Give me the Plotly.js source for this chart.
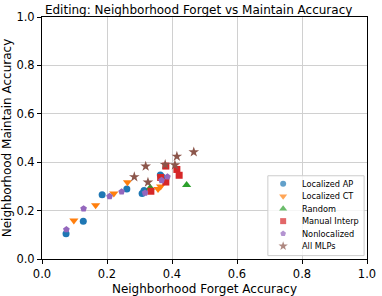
<!DOCTYPE html>
<html><head><meta charset="utf-8">
<script src="https://cdn.plot.ly/plotly-3.0.1.min.js"></script>
<style>html,body{margin:0;padding:0;background:#fff}#chart{width:382px;height:296px}</style>
</head><body><div id="chart"></div>
<script>
const apX = [0.074, 0.127, 0.185, 0.261, 0.308, 0.314, 0.364, 0.369];
const apY = [0.104, 0.156, 0.266, 0.289, 0.271, 0.283, 0.347, 0.340];
const ctX = [0.098, 0.165, 0.221, 0.263, 0.357, 0.365];
const ctY = [0.159, 0.222, 0.271, 0.317, 0.289, 0.300];
const rndX = [0.333, 0.445];
const rndY = [0.294, 0.306];
const miX = [0.335, 0.365, 0.381, 0.381, 0.415, 0.422];
const miY = [0.280, 0.337, 0.318, 0.384, 0.370, 0.346];
const nlX = [0.075, 0.128, 0.208, 0.245, 0.317, 0.368, 0.386];
const nlY = [0.122, 0.208, 0.259, 0.278, 0.273, 0.325, 0.340];
const allX = [0.284, 0.319, 0.326, 0.379, 0.409, 0.415, 0.467];
const allY = [0.339, 0.383, 0.317, 0.390, 0.388, 0.424, 0.442];
const seriesNames = ['Localized AP', 'Localized CT', 'Random', 'Manual Interp', 'Nonlocalized', 'All MLPs'];

const colors = ['#1f77b4', '#ff7f0e', '#2ca02c', '#d62728', '#9467bd', '#8c564b'];
const symbols = ['circle', 'triangle-down', 'triangle-up', 'square', 'pentagon', 'star'];
const sizes = [7, 8, 8, 7, 7, 8];
const xs = [apX, ctX, rndX, miX, nlX, allX];
const ys = [apY, ctY, rndY, miY, nlY, allY];

const traces = seriesNames.map((n, i) => ({
  type:'scatter', mode:'markers', name:n, x:xs[i], y:ys[i], showlegend:false,
  marker:{color:colors[i], symbol:symbols[i], size:sizes[i], line:{width:0}}
}));

// compact legend (matplotlib-like), drawn on the main axes
const legBox = {x0:0.695, x1:0.991, y0:0.014, y1:0.344};
const legMarkX = 0.742, legTextX = 0.793, legTop = 0.311, legStep = 0.0515;
traces.push({
  type:'scatter', mode:'markers', showlegend:false, hoverinfo:'skip',
  x: seriesNames.map(() => legMarkX),
  y: seriesNames.map((n, i) => legTop - i * legStep),
  marker:{color:colors, symbol:symbols, size:sizes.map(s => s - 1), line:{width:0}}
});
const annotations = seriesNames.map((n, i) => ({
  xref:'x', yref:'y', x:legTextX, y:legTop - i * legStep, text:n, showarrow:false,
  xanchor:'left', yanchor:'middle', font:{size:8.2, color:'#000'}
}));

const ax = {
  range:[0,1], dtick:0.2, tickformat:'.1f', showgrid:true, gridcolor:'#d0d0d0', gridwidth:1,
  showline:true, linecolor:'#000', linewidth:1, mirror:true, ticks:'outside', ticklen:4,
  tickcolor:'#000', zeroline:false, tickfont:{size:11.5, color:'#000'}
};
const layout = {
  width:382, height:296,
  margin:{l:42, r:15, t:17, b:37},
  font:{family:'DejaVu Sans', color:'#000'},
  paper_bgcolor:'#fff', plot_bgcolor:'#fff',
  title:{text:'Editing: Neighborhood Forget vs Maintain Accuracy', font:{size:12}, x:0.52, xanchor:'center', y:0.966, yanchor:'middle'},
  xaxis:Object.assign({}, ax, {title:{text:'Neighborhood Forget Accuracy', font:{size:12}, standoff:4}}),
  yaxis:Object.assign({}, ax, {title:{text:'Neighborhood Maintain Accuracy', font:{size:12}, standoff:2}}),
  shapes:[{type:'rect', xref:'x', yref:'y', layer:'between', x0:legBox.x0, x1:legBox.x1, y0:legBox.y0, y1:legBox.y1,
    fillcolor:'rgba(255,255,255,0.8)', line:{color:'#cccccc', width:1}}],
  annotations:annotations,
  showlegend:false
};
Plotly.newPlot('chart', traces, layout, {staticPlot:true, displayModeBar:false});
</script></body></html>
